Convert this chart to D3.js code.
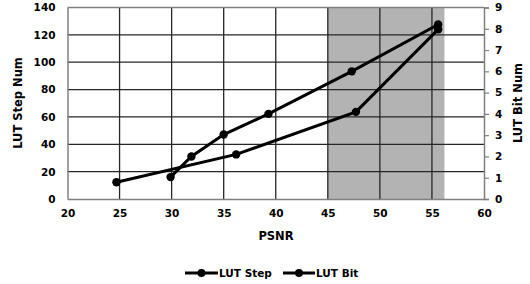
<!DOCTYPE html>
<html><head><meta charset="utf-8">
<script src="https://cdn.jsdelivr.net/npm/d3@7"></script>
<style>body{margin:0;background:#fff}svg text{font-family:"DejaVu Sans",Verdana,sans-serif;font-weight:bold;fill:#000}</style>
</head><body><svg id="c" width="530" height="284"></svg>
<script>
const stepPSNR = [24.7, 36.2, 47.7, 55.6];
const stepNum  = [12.2, 32.6, 63.7, 124];
const bitPSNR  = [29.9, 31.9, 35.0, 39.3, 47.3, 55.6];
const bitNum   = [1.03, 2.0, 3.03, 4.0, 6.0, 8.2];
const xTicks = [20,25,30,35,40,45,50,55,60];
const yLeftTicks = [0,20,40,60,80,100,120,140];
const yRightTicks = [0,1,2,3,4,5,6,7,8,9];
const shaded = [45, 56.2];
const seriesNames = ["LUT Step","LUT Bit"];

const svg = d3.select("#c");
const L=67.5, R=484, T=7.5, B=199;
const x = d3.scaleLinear().domain([20,60]).range([L,R]);
const yL = d3.scaleLinear().domain([0,140]).range([B,T]);
const yR = d3.scaleLinear().domain([0,9]).range([B,T]);

svg.append("rect").attr("x",x(shaded[0])).attr("y",T).attr("width",x(shaded[1])-x(shaded[0])).attr("height",B-T).attr("fill","#b3b3b3");

// grid
svg.append("g").selectAll("line").data(yLeftTicks.slice(1,-1)).join("line")
  .attr("x1",L).attr("x2",R).attr("y1",d=>yL(d)).attr("y2",d=>yL(d)).attr("stroke","#262626").attr("stroke-width",1.3);
svg.append("g").selectAll("line").data(xTicks.slice(1,-1)).join("line")
  .attr("y1",T).attr("y2",B).attr("x1",d=>x(d)).attr("x2",d=>x(d)).attr("stroke","#262626").attr("stroke-width",1.3);
// top border
svg.append("line").attr("x1",L).attr("x2",R).attr("y1",T).attr("y2",T).attr("stroke","#808080").attr("stroke-width",1.3);

// axes
const ax = svg.append("g").attr("transform",`translate(0,${B})`).call(d3.axisBottom(x).tickValues(xTicks).tickSize(0).tickPadding(11));
const ay = svg.append("g").attr("transform",`translate(${L},0)`).call(d3.axisLeft(yL).tickValues(yLeftTicks).tickSize(0).tickPadding(12));
const ar = svg.append("g").attr("transform",`translate(${R},0)`).call(d3.axisRight(yR).tickValues(yRightTicks).tickSize(5).tickPadding(6));
[ax,ay,ar].forEach(a=>{a.select(".domain").attr("stroke","#808080").attr("stroke-width",1.5);
  a.selectAll(".tick line").attr("stroke","#808080").attr("stroke-width",1.2);
  a.selectAll("text").attr("font-size",10.5).attr("font-family",null);});

// titles
svg.append("text").attr("x",276).attr("y",240).attr("text-anchor","middle").attr("font-size",11.5).text("PSNR");
svg.append("text").attr("transform","translate(22,103) rotate(-90)").attr("text-anchor","middle").attr("font-size",11.5).text("LUT Step Num");
svg.append("text").attr("transform","translate(522,103) rotate(-90)").attr("text-anchor","middle").attr("font-size",11.5).text("LUT Bit Num");

// lines
const stepData = stepPSNR.map((p,i)=>[x(p),yL(stepNum[i])]);
const bitData = bitPSNR.map((p,i)=>[x(p),yR(bitNum[i])]);
[stepData,bitData].forEach(d=>{
  svg.append("path").attr("d",d3.line()(d)).attr("fill","none").attr("stroke","#000").attr("stroke-width",3);
  svg.append("g").selectAll("circle").data(d).join("circle").attr("cx",p=>p[0]).attr("cy",p=>p[1]).attr("r",4.2).attr("fill","#000");
});

// legend
const leg = [{x1:185,x2:218,name:seriesNames[0]},{x1:283,x2:315,name:seriesNames[1]}];
leg.forEach(l=>{
  svg.append("line").attr("x1",l.x1).attr("x2",l.x2).attr("y1",273).attr("y2",273).attr("stroke","#000").attr("stroke-width",3);
  svg.append("circle").attr("cx",(l.x1+l.x2)/2).attr("cy",273).attr("r",4).attr("fill","#000");
  svg.append("text").attr("x",l.x2+1).attr("y",277).attr("font-size",10.5).text(l.name);
});
</script></body></html>
